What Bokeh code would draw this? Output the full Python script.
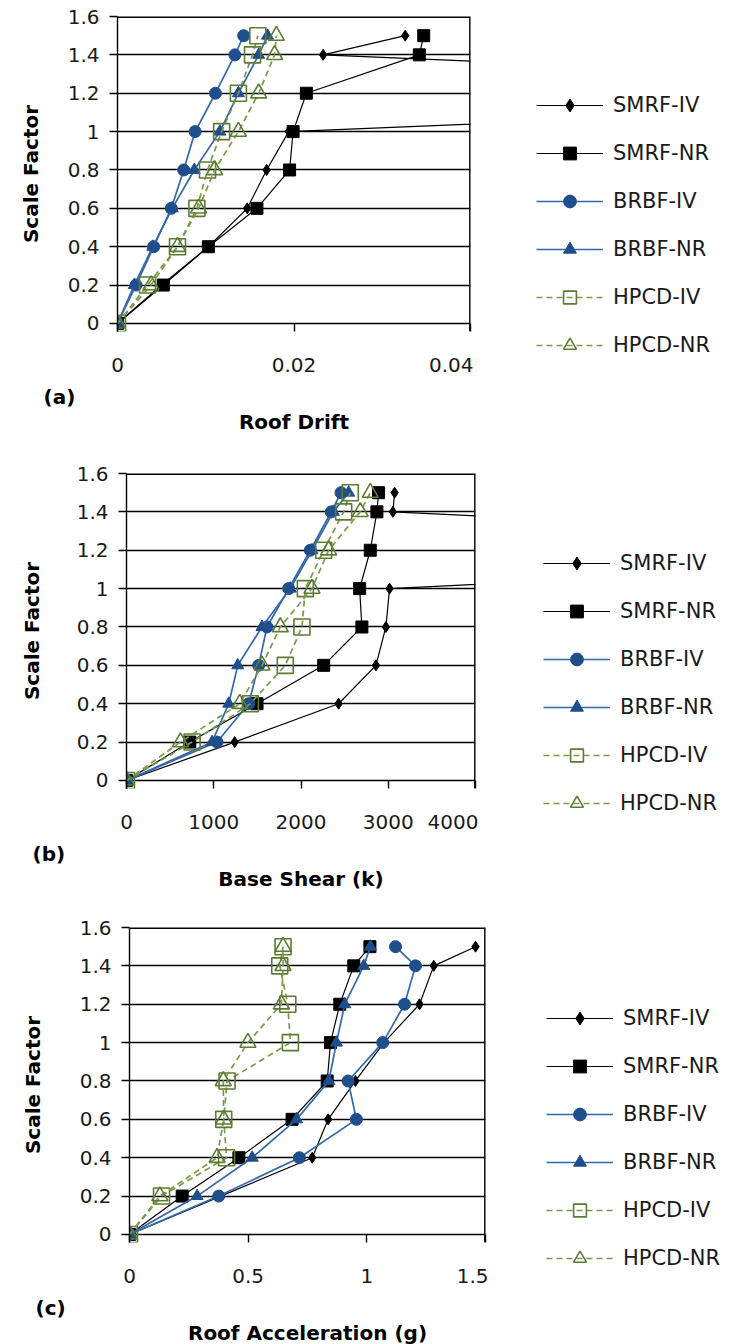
from bokeh.plotting import figure
from bokeh.models import FixedTicker, Span, Legend, LegendItem, Title
from bokeh.layouts import column, row
from bokeh.embed import file_html
from bokeh.resources import INLINE

# ---------------- data ----------------
scale = [0, 0.2, 0.4, 0.6, 0.8, 1.0, 1.2, 1.4, 1.5]
series_names = ["SMRF-IV", "SMRF-NR", "BRBF-IV", "BRBF-NR", "HPCD-IV", "HPCD-NR"]

# (a) Roof drift
smrf_iv_a = [0, 0.0050, 0.0103, 0.0147, 0.0169, 0.0194, 0.125, 0.0233, 0.0326]
smrf_nr_a = [0, 0.0052, 0.0103, 0.0158, 0.0195, 0.0199, 0.0214, 0.0342, 0.0347]
brbf_iv_a = [0, 0.0021, 0.0041, 0.0061, 0.0075, 0.0088, 0.0111, 0.0133, 0.0143]
brbf_nr_a = [0, 0.0019, 0.0040, 0.0062, 0.0087, 0.0116, 0.0137, 0.0160, 0.0170]
hpcd_iv_a = [0, 0.0034, 0.0068, 0.0090, 0.0102, 0.0118, 0.0137, 0.0153, 0.0159]
hpcd_nr_a = [0, 0.0038, 0.0068, 0.0092, 0.0110, 0.0137, 0.0160, 0.0178, 0.0180]

# (b) Base shear (k)
smrf_iv_b = [0, 1240, 2431, 2859, 2973, 3015, 12000, 3053, 3073]
smrf_nr_b = [0, 725, 1496, 2260, 2698, 2672, 2794, 2870, 2889]
brbf_iv_b = [0, 1038, 1400, 1515, 1610, 1859, 2107, 2347, 2458]
brbf_nr_b = [0, 981, 1172, 1275, 1553, 1878, 2126, 2370, 2546]
hpcd_iv_b = [0, 752, 1420, 1820, 2011, 2050, 2260, 2489, 2565]
hpcd_nr_b = [0, 618, 1298, 1553, 1763, 2126, 2317, 2679, 2794]

# (c) Roof acceleration (g)
smrf_iv_c = [0, 0.385, 0.770, 0.837, 0.952, 1.072, 1.222, 1.282, 1.458]
smrf_nr_c = [0, 0.222, 0.461, 0.685, 0.833, 0.847, 0.886, 0.945, 1.013]
brbf_iv_c = [0, 0.376, 0.716, 0.956, 0.921, 1.067, 1.159, 1.205, 1.121]
brbf_nr_c = [0, 0.285, 0.517, 0.704, 0.840, 0.872, 0.907, 0.987, 1.015]
hpcd_iv_c = [0, 0.135, 0.409, 0.397, 0.411, 0.678, 0.667, 0.633, 0.647]
hpcd_nr_c = [0, 0.128, 0.369, 0.397, 0.395, 0.499, 0.640, 0.647, 0.647]

y_ticks = [0, 0.2, 0.4, 0.6, 0.8, 1, 1.2, 1.4, 1.6]
y_tick_labels = ["0", "0.2", "0.4", "0.6", "0.8", "1", "1.2", "1.4", "1.6"]

xa_ticks = [0, 0.02, 0.04]
xa_tick_labels = ["0", "0.02", "0.04"]
xb_ticks = [0, 1000, 2000, 3000, 4000]
xb_tick_labels = ["0", "1000", "2000", "3000", "4000"]
xc_ticks = [0, 0.5, 1, 1.5]
xc_tick_labels = ["0", "0.5", "1", "1.5"]

# ---------------- styles ----------------
BLACK = "#000000"
BLUE_M = "#1F4E8C"
BLUE_L = "#3468AA"
GREEN_M = "#5C7C32"
GREEN_L = "#7A9A47"
FONT = "DejaVu Sans"
TXT = "#1a1a1a"
NAN = float("nan")

styles = [
    dict(marker="diamond", size=11, fill=BLACK, mline=BLACK, lcolor=BLACK, dash="solid", lw=1.2),
    dict(marker="square", size=12, fill=BLACK, mline=BLACK, lcolor=BLACK, dash="solid", lw=1.2),
    dict(marker="circle", size=12, fill=BLUE_M, mline=BLUE_M, lcolor=BLUE_L, dash="solid", lw=1.7),
    dict(marker="triangle", size=12, fill=BLUE_M, mline=BLUE_M, lcolor=BLUE_L, dash="solid", lw=1.7),
    dict(marker="square", size=16, fill=None, mline=GREEN_M, lcolor=GREEN_L, dash="6 4", lw=1.7),
    dict(marker="triangle", size=16, fill=None, mline=GREEN_M, lcolor=GREEN_L, dash="6 4", lw=1.7),
]

Y0, Y1 = -0.042, 1.6
FRAME_H = 315
PAGE_W = 730
FIG_H = 448
RIGHT_PAD = 3


def make_panel(xs_list, xmax, xticks, xlabels, xtitle, tag, frame_w, left, top,
               ytitle_standoff, leg_x, leg_first_y, tag_offset, tick_standoff,
               tag_standoff, title_standoff):
    width = left + frame_w + RIGHT_PAD
    p = figure(width=width, height=FIG_H, x_range=(0, xmax), y_range=(Y0, Y1),
               output_backend="svg", toolbar_location=None,
               min_border_left=left, min_border_top=top,
               min_border_bottom=FIG_H - top - FRAME_H, min_border_right=RIGHT_PAD)
    p.outline_line_color = None
    p.background_fill_color = "white"
    p.border_fill_color = "white"
    p.xgrid.grid_line_color = None
    p.ygrid.grid_line_color = BLACK
    p.ygrid.grid_line_width = 1.4
    p.ygrid.ticker = FixedTicker(ticks=y_ticks)

    # y axis
    ya = p.yaxis[0]
    ya.ticker = FixedTicker(ticks=y_ticks)
    ya.major_label_overrides = dict(zip(y_ticks, y_tick_labels))
    ya.major_tick_out = 8
    ya.major_tick_in = 0
    ya.minor_tick_line_color = None
    ya.axis_line_color = BLACK
    ya.axis_line_width = 1.4
    ya.major_tick_line_color = BLACK
    ya.major_tick_line_width = 1.4
    ya.major_label_text_font = FONT
    ya.major_label_text_font_size = "20px"
    ya.major_label_text_color = TXT
    ya.major_label_standoff = 10
    ya.axis_label = "Scale Factor"
    ya.axis_label_text_font = FONT
    ya.axis_label_text_font_size = "20px"
    ya.axis_label_text_font_style = "bold"
    ya.axis_label_text_color = BLACK
    ya.axis_label_standoff = ytitle_standoff

    # x axis
    xa = p.xaxis[0]
    xa.ticker = FixedTicker(ticks=xticks)
    xa.major_label_overrides = dict(zip(xticks, xlabels))
    xa.major_tick_in = 8
    xa.major_tick_out = 0
    xa.minor_tick_line_color = None
    xa.axis_line_color = None
    xa.major_tick_line_color = BLACK
    xa.major_tick_line_width = 1.4
    xa.major_label_text_font = FONT
    xa.major_label_text_font_size = "20px"
    xa.major_label_text_color = TXT
    xa.major_label_standoff = tick_standoff

    # panel tag and x title, stacked below the axis
    p.add_layout(Title(text=tag, align="left", offset=tag_offset, standoff=tag_standoff,
                       text_font=FONT, text_font_size="20px", text_font_style="bold",
                       text_color=BLACK), "below")
    p.add_layout(Title(text=xtitle, align="center", standoff=title_standoff,
                       text_font=FONT, text_font_size="20px", text_font_style="bold",
                       text_color=BLACK), "below")

    # frame borders (top and right)
    p.add_layout(Span(location=Y1, dimension="width", line_color=BLACK, line_width=2.8))
    p.add_layout(Span(location=xmax, dimension="height", line_color=BLACK, line_width=2.8))

    for xs, st in zip(xs_list, styles):
        p.line(xs, scale, line_color=st["lcolor"], line_width=st["lw"], line_dash=st["dash"])
        p.scatter(xs, scale, marker=st["marker"], size=st["size"],
                  fill_color=st["fill"], line_color=st["mline"],
                  line_width=1.6 if st["fill"] is None else 1)

    # legend lives in a blank figure to the right of the chart
    lf = figure(width=PAGE_W - width, height=FIG_H, x_range=(0, 1), y_range=(0, 1),
                x_axis_type=None, y_axis_type=None, output_backend="svg",
                toolbar_location=None, min_border=0)
    lf.outline_line_color = None
    lf.background_fill_color = "white"
    lf.border_fill_color = "white"
    items = []
    for name, st in zip(series_names, styles):
        # style carriers for the legend only (a single NaN point draws nothing)
        r_line = lf.line(x=[NAN], y=[NAN], line_color=st["lcolor"], line_width=st["lw"],
                         line_dash=st["dash"])
        r_mk = lf.scatter(x=[NAN], y=[NAN], marker=st["marker"], size=st["size"],
                          fill_color=st["fill"], line_color=st["mline"],
                          line_width=1.6 if st["fill"] is None else 1)
        items.append(LegendItem(label=name, renderers=[r_line, r_mk]))
    glyph_h, spacing = 32, 16
    leg_h = 6 * glyph_h + 5 * spacing
    leg_top = leg_first_y - glyph_h / 2
    leg = Legend(items=items, location=(leg_x - width, (top + FRAME_H) - (leg_top + leg_h)),
                 orientation="vertical", glyph_width=67, glyph_height=glyph_h,
                 label_height=glyph_h, spacing=spacing, padding=0, margin=0,
                 border_line_color=None, background_fill_alpha=0, label_standoff=10,
                 label_text_font=FONT, label_text_font_size="21px", label_text_color=TXT)
    lf.add_layout(leg, "left")
    return row(p, lf)


ra = make_panel([smrf_iv_a, smrf_nr_a, brbf_iv_a, brbf_nr_a, hpcd_iv_a, hpcd_nr_a],
                0.04, xa_ticks, xa_tick_labels, "Roof Drift", "(a)",
                frame_w=353, left=117, top=16, ytitle_standoff=22,
                leg_x=536, leg_first_y=105, tag_offset=-74, tick_standoff=26,
                tag_standoff=17, title_standoff=-20)
rb = make_panel([smrf_iv_b, smrf_nr_b, brbf_iv_b, brbf_nr_b, hpcd_iv_b, hpcd_nr_b],
                4000, xb_ticks, xb_tick_labels, "Base Shear (k)", "(b)",
                frame_w=349, left=126, top=25, ytitle_standoff=30,
                leg_x=543, leg_first_y=563 - 448, tag_offset=-94, tick_standoff=26,
                tag_standoff=17, title_standoff=-20)
rc = make_panel([smrf_iv_c, smrf_nr_c, brbf_iv_c, brbf_nr_c, hpcd_iv_c, hpcd_nr_c],
                1.5, xc_ticks, xc_tick_labels, "Roof Acceleration (g)", "(c)",
                frame_w=356, left=129, top=31, ytitle_standoff=32,
                leg_x=546, leg_first_y=1018 - 896, tag_offset=-94, tick_standoff=26,
                tag_standoff=17, title_standoff=-20)

layout = column(ra, rb, rc)
open("out.html", "w").write(file_html(layout, INLINE))
